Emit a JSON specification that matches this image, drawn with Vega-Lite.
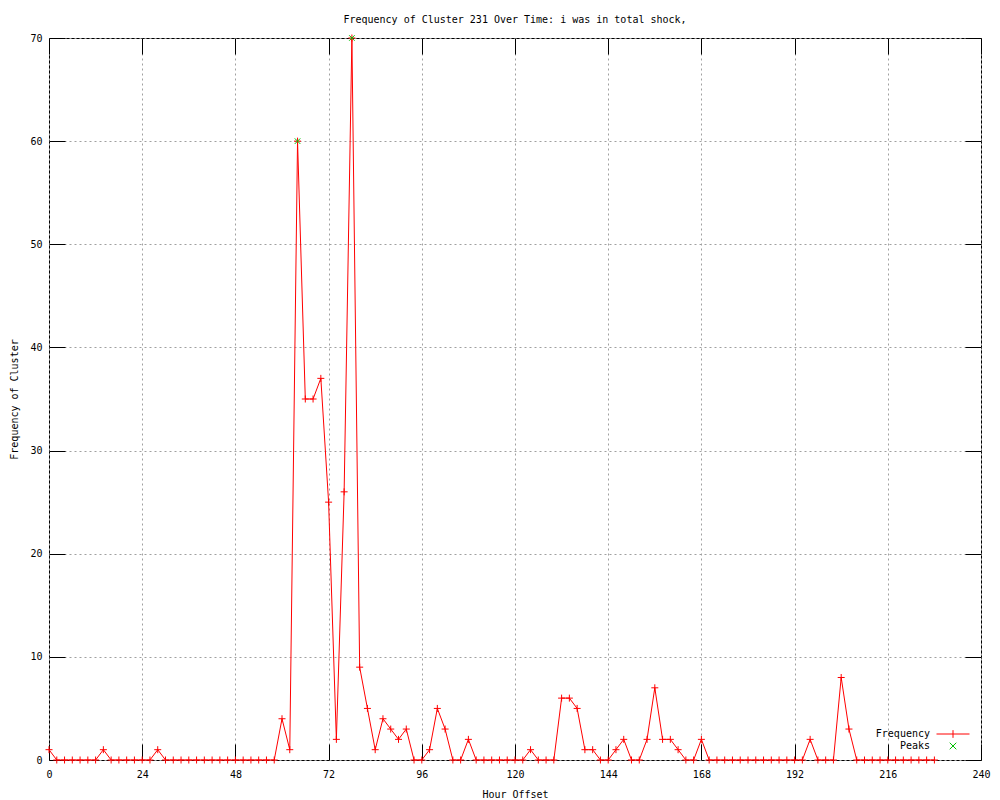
{
  "$schema": "https://vega.github.io/schema/vega-lite/v6.json",
  "width": 932,
  "height": 722,
  "autosize": {"type": "none"},
  "padding": {"left": 49, "top": 38, "right": 19, "bottom": 40},
  "background": "white",
  "title": {
    "text": "Frequency of Cluster 231 Over Time: i was in total shock,",
    "font": "DejaVu Sans Mono",
    "fontSize": 10,
    "fontWeight": "normal",
    "color": "black",
    "anchor": "middle",
    "offset": 0,
    "baseline": "alphabetic"
  },
  "config": {
    "view": {"stroke": "black", "strokeWidth": 1},
    "font": "DejaVu Sans Mono"
  },
  "datasets": {
    "freq": [
      {"hour": 0, "freq": 1}, {"hour": 2, "freq": 0}, {"hour": 4, "freq": 0}, {"hour": 6, "freq": 0},
      {"hour": 8, "freq": 0}, {"hour": 10, "freq": 0}, {"hour": 12, "freq": 0}, {"hour": 14, "freq": 1},
      {"hour": 16, "freq": 0}, {"hour": 18, "freq": 0}, {"hour": 20, "freq": 0}, {"hour": 22, "freq": 0},
      {"hour": 24, "freq": 0}, {"hour": 26, "freq": 0}, {"hour": 28, "freq": 1}, {"hour": 30, "freq": 0},
      {"hour": 32, "freq": 0}, {"hour": 34, "freq": 0}, {"hour": 36, "freq": 0}, {"hour": 38, "freq": 0},
      {"hour": 40, "freq": 0}, {"hour": 42, "freq": 0}, {"hour": 44, "freq": 0}, {"hour": 46, "freq": 0},
      {"hour": 48, "freq": 0}, {"hour": 50, "freq": 0}, {"hour": 52, "freq": 0}, {"hour": 54, "freq": 0},
      {"hour": 56, "freq": 0}, {"hour": 58, "freq": 0}, {"hour": 60, "freq": 4}, {"hour": 62, "freq": 1},
      {"hour": 64, "freq": 60}, {"hour": 66, "freq": 35}, {"hour": 68, "freq": 35}, {"hour": 70, "freq": 37},
      {"hour": 72, "freq": 25}, {"hour": 74, "freq": 2}, {"hour": 76, "freq": 26}, {"hour": 78, "freq": 70},
      {"hour": 80, "freq": 9}, {"hour": 82, "freq": 5}, {"hour": 84, "freq": 1}, {"hour": 86, "freq": 4},
      {"hour": 88, "freq": 3}, {"hour": 90, "freq": 2}, {"hour": 92, "freq": 3}, {"hour": 94, "freq": 0},
      {"hour": 96, "freq": 0}, {"hour": 98, "freq": 1}, {"hour": 100, "freq": 5}, {"hour": 102, "freq": 3},
      {"hour": 104, "freq": 0}, {"hour": 106, "freq": 0}, {"hour": 108, "freq": 2}, {"hour": 110, "freq": 0},
      {"hour": 112, "freq": 0}, {"hour": 114, "freq": 0}, {"hour": 116, "freq": 0}, {"hour": 118, "freq": 0},
      {"hour": 120, "freq": 0}, {"hour": 122, "freq": 0}, {"hour": 124, "freq": 1}, {"hour": 126, "freq": 0},
      {"hour": 128, "freq": 0}, {"hour": 130, "freq": 0}, {"hour": 132, "freq": 6}, {"hour": 134, "freq": 6},
      {"hour": 136, "freq": 5}, {"hour": 138, "freq": 1}, {"hour": 140, "freq": 1}, {"hour": 142, "freq": 0},
      {"hour": 144, "freq": 0}, {"hour": 146, "freq": 1}, {"hour": 148, "freq": 2}, {"hour": 150, "freq": 0},
      {"hour": 152, "freq": 0}, {"hour": 154, "freq": 2}, {"hour": 156, "freq": 7}, {"hour": 158, "freq": 2},
      {"hour": 160, "freq": 2}, {"hour": 162, "freq": 1}, {"hour": 164, "freq": 0}, {"hour": 166, "freq": 0},
      {"hour": 168, "freq": 2}, {"hour": 170, "freq": 0}, {"hour": 172, "freq": 0}, {"hour": 174, "freq": 0},
      {"hour": 176, "freq": 0}, {"hour": 178, "freq": 0}, {"hour": 180, "freq": 0}, {"hour": 182, "freq": 0},
      {"hour": 184, "freq": 0}, {"hour": 186, "freq": 0}, {"hour": 188, "freq": 0}, {"hour": 190, "freq": 0},
      {"hour": 192, "freq": 0}, {"hour": 194, "freq": 0}, {"hour": 196, "freq": 2}, {"hour": 198, "freq": 0},
      {"hour": 200, "freq": 0}, {"hour": 202, "freq": 0}, {"hour": 204, "freq": 8}, {"hour": 206, "freq": 3},
      {"hour": 208, "freq": 0}, {"hour": 210, "freq": 0}, {"hour": 212, "freq": 0}, {"hour": 214, "freq": 0},
      {"hour": 216, "freq": 0}, {"hour": 218, "freq": 0}, {"hour": 220, "freq": 0}, {"hour": 222, "freq": 0},
      {"hour": 224, "freq": 0}, {"hour": 226, "freq": 0}, {"hour": 228, "freq": 0}
    ],
    "peaks": [
      {"hour": 64, "freq": 60},
      {"hour": 78, "freq": 70}
    ]
  },
  "layer": [
    {
      "data": {"name": "freq"},
      "mark": {"type": "line", "color": "#ff0000", "strokeWidth": 1},
      "encoding": {
        "x": {
          "field": "hour", "type": "quantitative",
          "scale": {"domain": [0, 240], "nice": false, "zero": false},
          "axis": {
            "orient": "bottom",
            "values": [0, 24, 48, 72, 96, 120, 144, 168, 192, 216, 240],
            "tickSize": -16, "tickColor": "black", "tickWidth": 1,
            "labelPadding": 25, "labelFont": "DejaVu Sans Mono", "labelFontSize": 10,
            "labelColor": "black", "labelBaseline": "top", "labelFlush": false, "labelOverlap": false,
            "domain": false,
            "grid": true, "gridColor": "#a0a0a0", "gridDash": [2, 3], "gridWidth": 1,
            "title": "Hour Offset", "titleFont": "DejaVu Sans Mono", "titleFontSize": 10,
            "titleFontWeight": "normal", "titleColor": "black",
            "titleX": 466, "titleY": 37, "titleBaseline": "alphabetic", "titleAlign": "center"
          }
        },
        "y": {
          "field": "freq", "type": "quantitative",
          "scale": {"domain": [0, 70], "nice": false},
          "axis": {
            "orient": "left",
            "values": [0, 10, 20, 30, 40, 50, 60, 70],
            "tickSize": -16, "tickColor": "black", "tickWidth": 1,
            "labelPadding": 23, "labelFont": "DejaVu Sans Mono", "labelFontSize": 10,
            "labelColor": "black", "labelAlign": "right", "labelBaseline": "middle",
            "labelFlush": false, "labelOverlap": false,
            "domain": false,
            "grid": true, "gridColor": "#a0a0a0", "gridDash": [2, 3], "gridWidth": 1,
            "title": "Frequency of Cluster", "titleFont": "DejaVu Sans Mono", "titleFontSize": 10,
            "titleFontWeight": "normal", "titleColor": "black", "titleAngle": 270,
            "titleX": -32, "titleY": 361, "titleBaseline": "alphabetic", "titleAlign": "center"
          }
        }
      }
    },
    {
      "data": {"name": "freq"},
      "mark": {"type": "point", "shape": "M-1,0L1,0M0,-1L0,1", "filled": false, "strokeWidth": 1, "size": 49, "opacity": 1, "color": "#ff0000"},
      "encoding": {
        "x": {"field": "hour", "type": "quantitative", "axis": null},
        "y": {"field": "freq", "type": "quantitative", "axis": null}
      }
    },
    {
      "data": {"name": "peaks"},
      "mark": {"type": "point", "shape": "M-1,-1L1,1M-1,1L1,-1", "filled": false, "strokeWidth": 1, "size": 30, "opacity": 1, "color": "#00c000"},
      "encoding": {
        "x": {"field": "hour", "type": "quantitative", "axis": null},
        "y": {"field": "freq", "type": "quantitative", "axis": null}
      }
    },
    {
      "data": {"name": "peaks"},
      "transform": [{"filter": "datum.hour < 0"}],
      "mark": {"type": "point", "filled": false, "strokeWidth": 1, "opacity": 1},
      "encoding": {
        "x": {"field": "hour", "type": "quantitative", "axis": null},
        "y": {"field": "freq", "type": "quantitative", "axis": null},
        "color": {
          "datum": "Frequency",
          "type": "nominal",
          "scale": {"domain": ["Frequency", "Peaks"], "range": ["#ff0000", "#00c000"]},
          "legend": {
            "title": null,
            "orient": "none",
            "legendX": 898,
            "legendY": 690,
            "padding": 0,
            "symbolSize": 121,
            "symbolStrokeWidth": 1,
            "symbolFillColor": "transparent",
            "rowPadding": -2,
            "labelOffset": -29,
            "labelAlign": "right",
            "labelFont": "DejaVu Sans Mono",
            "labelFontSize": 10,
            "labelColor": "black"
          }
        },
        "shape": {
          "datum": "Frequency",
          "type": "nominal",
          "scale": {"domain": ["Frequency", "Peaks"], "range": ["M-3,0L3,0M0,-0.7L0,0.7", "M-0.6,-0.6L0.6,0.6M-0.6,0.6L0.6,-0.6"]},
          "legend": {
            "title": null,
            "orient": "none",
            "legendX": 898,
            "legendY": 690,
            "padding": 0,
            "symbolSize": 121,
            "symbolStrokeWidth": 1,
            "symbolFillColor": "transparent",
            "rowPadding": -2,
            "labelOffset": -29,
            "labelAlign": "right",
            "labelFont": "DejaVu Sans Mono",
            "labelFontSize": 10,
            "labelColor": "black"
          }
        }
      }
    },
    {
      "data": {"name": "freq"},
      "mark": {"type": "point", "opacity": 0},
      "encoding": {
        "x": {
          "field": "hour", "type": "quantitative",
          "axis": {
            "orient": "top",
            "values": [0, 24, 48, 72, 96, 120, 144, 168, 192, 216, 240],
            "tickSize": -16, "tickColor": "black", "tickWidth": 1,
            "labels": false, "domain": false, "grid": false, "title": null
          }
        },
        "y": {
          "field": "freq", "type": "quantitative",
          "axis": {
            "orient": "right",
            "values": [0, 10, 20, 30, 40, 50, 60, 70],
            "tickSize": -16, "tickColor": "black", "tickWidth": 1,
            "labels": false, "domain": false, "grid": false, "title": null
          }
        }
      }
    }
  ],
  "resolve": {"axis": {"x": "independent", "y": "independent"}}
}
